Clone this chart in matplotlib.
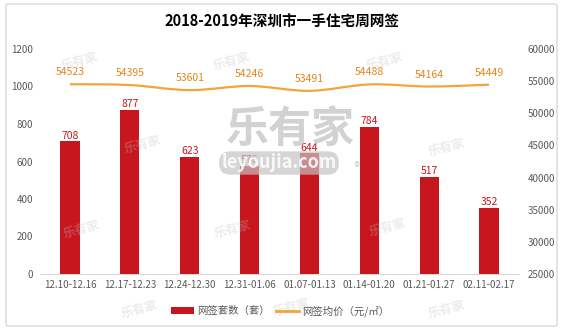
import matplotlib
matplotlib.use("Agg")
import matplotlib.pyplot as plt
from matplotlib.patches import FancyBboxPatch, Patch
from matplotlib.lines import Line2D
from matplotlib.path import Path
import matplotlib.patches as mpatches

plt.rcParams['font.family'] = ['Noto Sans CJK SC', 'DejaVu Sans']

# 数据
weeks = ["12.10-12.16", "12.17-12.23", "12.24-12.30", "12.31-01.06",
         "01.07-01.13", "01.14-01.20", "01.21-01.27", "02.11-02.17"]
units = [708, 877, 623, 576, 644, 784, 517, 352]
prices = [54523, 54395, 53601, 54246, 53491, 54488, 54164, 54449]
left_ticks = [0, 200, 400, 600, 800, 1000, 1200]
right_ticks = [25000, 30000, 35000, 40000, 45000, 50000, 55000, 60000]

BAR_COLOR = "#C8161E"
LINE_COLOR = "#F5A33A"
PRICE_TEXT = "#E4851A"
TICK_COLOR = "#595959"

W, H = 562, 334
fig = plt.figure(figsize=(W / 100, H / 100), dpi=100)
ax = fig.add_axes([40 / W, 1 - 274 / H, 479 / W, (274 - 49) / H])
ax2 = ax.twinx()

x = list(range(len(weeks)))
ax.bar(x, units, width=0.32, color=BAR_COLOR, zorder=3)
for xi, v in zip(x, units):
    ax.annotate(str(v), (xi, v), xytext=(0, 0.5), textcoords="offset points",
                ha="center", va="bottom", fontsize=7.5, color=BAR_COLOR, zorder=4)

# 平滑折线（穿过各数据点的贝塞尔曲线）
verts = [(x[0], prices[0])]
codes = [Path.MOVETO]
n = len(prices)
for i in range(n - 1):
    p0 = (x[max(i - 1, 0)], prices[max(i - 1, 0)])
    p1 = (x[i], prices[i])
    p2 = (x[i + 1], prices[i + 1])
    p3 = (x[min(i + 2, n - 1)], prices[min(i + 2, n - 1)])
    c1 = (p1[0] + (p2[0] - p0[0]) / 6, p1[1] + (p2[1] - p0[1]) / 6)
    c2 = (p2[0] - (p3[0] - p1[0]) / 6, p2[1] - (p3[1] - p1[1]) / 6)
    verts += [c1, c2, p2]
    codes += [Path.CURVE4] * 3
ax2.add_patch(mpatches.PathPatch(Path(verts, codes), facecolor="none",
                                 edgecolor=LINE_COLOR, lw=1.6, zorder=3))
for xi, v in zip(x, prices):
    ax2.annotate(str(v), (xi, v), xytext=(0, 5), textcoords="offset points",
                 ha="center", va="bottom", fontsize=7.5, color=PRICE_TEXT)

ax.set_xlim(-0.5, 7.5)
ax.set_ylim(0, 1200)
ax2.set_ylim(25000, 60000)
ax.set_xticks(x)
ax.set_xticklabels(weeks)
ax.set_yticks(left_ticks)
ax2.set_yticks(right_ticks)
for a in (ax, ax2):
    a.tick_params(length=0, labelsize=7, colors=TICK_COLOR)
    for s in a.spines.values():
        s.set_visible(False)
ax.tick_params(axis="y", pad=5)
ax2.tick_params(axis="y", pad=6)
ax.tick_params(axis="x", pad=4)
ax.spines["bottom"].set_visible(True)
ax.spines["bottom"].set_color("#D9D9D9")
ax.patch.set_alpha(0)

fig.text(282 / W, 1 - 22 / H, "2018-2019年深圳市一手住宅周网签",
         ha="center", va="center", fontsize=10.5, fontweight="bold")

handles = [Patch(facecolor=BAR_COLOR, edgecolor="none"),
           Line2D([0], [0], color=LINE_COLOR, lw=2)]
fig.legend(handles, ["网签套数（套）", "网签均价（元/㎡）"], loc="center",
           bbox_to_anchor=(280 / W, 1 - 311 / H), ncol=2, frameon=False,
           fontsize=7.5, handlelength=2.2, handleheight=0.6,
           columnspacing=0.6, handletextpad=0.3, labelcolor=TICK_COLOR)

# 外框
fig.patches.append(FancyBboxPatch((6 / W, 1 - 326 / H), 551 / W, 322 / H,
                                  boxstyle="round,pad=0,rounding_size=0.004",
                                  transform=fig.transFigure, facecolor="none",
                                  edgecolor="#D9D9D9", lw=1))

# 水印
fig.text(290 / W, 1 - 129 / H, "乐有家", ha="center", va="center",
         fontsize=31, fontweight="bold", color="#BFBFBF", alpha=0.7, zorder=2)
fig.text(279 / W, 1 - 163 / H, "leyoujia.com", ha="center", va="center",
         fontsize=13, fontweight="bold", color="white", alpha=0.85, zorder=2,
         bbox=dict(boxstyle="round,pad=0.12,rounding_size=0.6",
                   facecolor="#C4C4C4", edgecolor="none", alpha=0.7))
fig.text(357 / W, 1 - 168 / H, "®", ha="center", va="center",
         fontsize=9, color="#BFBFBF", alpha=0.8, zorder=2)
marks = [(80, 62), (232, 62), (385, 62), (143, 145), (447, 148),
         (82, 230), (233, 230), (388, 228), (140, 310), (292, 308), (447, 310)]
for mx, my in marks:
    fig.text(mx / W, 1 - my / H, "乐有家", ha="center", va="center",
             fontsize=9, fontweight="bold", color="#BFBFBF", alpha=0.3,
             rotation=15, zorder=2)

fig.savefig("out.png", dpi=100)
